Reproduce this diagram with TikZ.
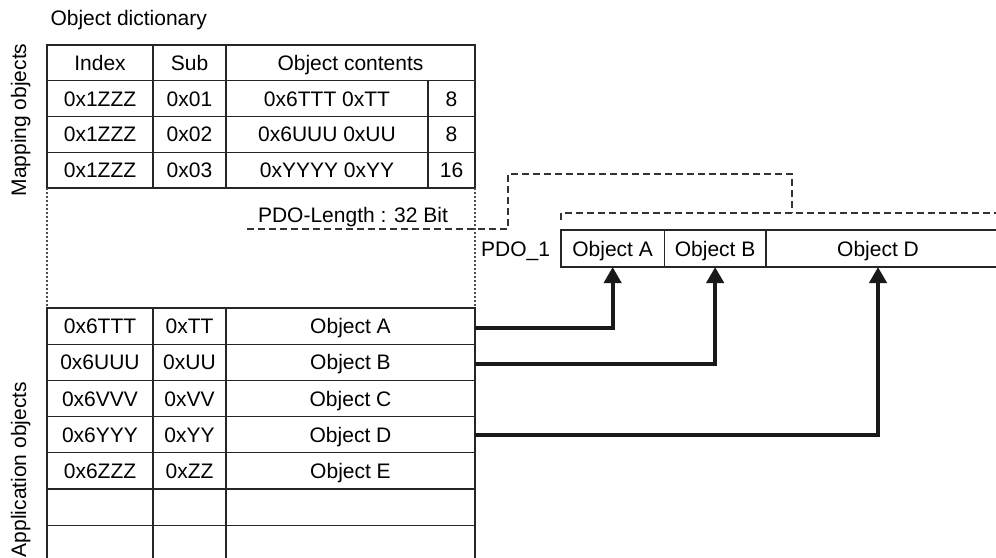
\documentclass[tikz,border=0pt]{standalone}
\usepackage{fontspec}
\setmainfont{Liberation Sans}
\usetikzlibrary{positioning}
\usetikzlibrary{calc}
\usetikzlibrary{arrows.meta}

\tikzset{
  cell/.style={draw=black!85, line width=1.1pt, inner sep=0pt, outer sep=0pt, anchor=north west,
    minimum height=35.75pt, text height=15pt, text depth=0pt},
  appcell/.style={cell, minimum height=36.2pt},
  tag/.style={inner sep=0pt, outer sep=0pt, text height=15pt, text depth=0pt},
  dashline/.style={draw=black!80, line width=1.1pt, dash pattern=on 7pt off 4pt},
  dotline/.style={draw=black!70, line width=1.3pt, dash pattern=on 1.5pt off 2.5pt},
  link/.style={draw=black!90, line width=4pt, -{Triangle[length=16pt,width=17pt]}},
}

\begin{document}
\begin{tikzpicture}[x=1pt, y=-1pt, font=\fontsize{21pt}{25pt}\selectfont]

\useasboundingbox (0,0) rectangle (996,557);
\clip (0,0) rectangle (996,557);

% Title and side labels
\node[anchor=base west] (dict) at (47,25) {Object dictionary};
\node[tag, rotate=90] (mapl) at (18.5,120) {Mapping objects};
\node[tag, rotate=90] (appl) at (18.5,469.5) {Application objects};

% Mapping objects: header
\node[cell, minimum width=106pt] (hidx) at (47,45) {Index};
\node[cell, minimum width=73pt] (hsub) at (153,45) {Sub};
\node[cell, minimum width=249pt] (hobj) at (226,45) {Object contents};

% Mapping objects: entries
\foreach \y/\sub/\obj/\len/\n in {80.75/0x01/0x6TTT 0xTT/8/1,
    116.5/0x02/0x6UUU 0xUU/8/2, 152.25/0x03/0xYYYY 0xYY/16/3}{
  \node[cell, minimum width=106pt] (midx\n) at (47,\y) {0x1ZZZ};
  \node[cell, minimum width=73pt] (msub\n) at (153,\y) {\sub};
  \node[cell, minimum width=202pt] (mobj\n) at (226,\y) {\obj};
  \node[cell, minimum width=47pt] (mlen\n) at (428,\y) {\len};
}

% Application objects
\foreach \y/\idx/\sub/\obj/\n in {308/0x6TTT/0xTT/Object A/a,
    344.2/0x6UUU/0xUU/Object B/b, 380.4/0x6VVV/0xVV/Object C/c,
    416.6/0x6YYY/0xYY/Object D/d, 452.8/0x6ZZZ/0xZZ/Object E/e,
    489/{}/{}/{}/f, 525.2/{}/{}/{}/g}{
  \node[appcell, minimum width=106pt] (aidx\n) at (47,\y) {\idx};
  \node[appcell, minimum width=73pt] (asub\n) at (153,\y) {\sub};
  \node[appcell, minimum width=249pt] (aobj\n) at (226,\y) {\obj};
}

% Gap between both parts
\draw[dotline] (midx3.south west) -- (aidxa.north west);
\draw[dotline] (mlen3.south east) -- (aobja.north east);

% PDO length
\node[tag, inner xsep=11pt, inner ysep=7pt] (pdolen) at (353,214.5) {PDO-Length : 32 Bit};

% PDO_1
\node[cell, minimum width=103.3pt, minimum height=37pt] (fa) at (561,230) {Object A};
\node[cell, minimum width=101.7pt, minimum height=37pt, right=0pt of fa] (fb) {Object B};
\node[tag, minimum width=224pt, minimum height=37pt, right=0pt of fb] (fd) {Object D};
\node[tag, left=11pt of fa] (pdo) {PDO\_1};
\draw[draw=black!85, line width=1.1pt] (fb.north east) -- (1010,230) (fb.south east) -- (1010,267);

% Bracket over PDO_1 and its link to the length
\coordinate (bmid) at (792,213);
\draw[dashline] ($(fa.north west)+(0,-10)$) |- (1010,213);
\draw[dashline] (pdolen.south west) -- (508,229) |- (792,174) -- (bmid);

% Mapping links
\draw[link] ([yshift=-2pt]aobja.east) -| (fa.south);
\draw[link] ([yshift=-2pt]aobjb.east) -| (fb.south);
\draw[link] (aobjd.east) -| (fd.south);

\end{tikzpicture}
\end{document}
